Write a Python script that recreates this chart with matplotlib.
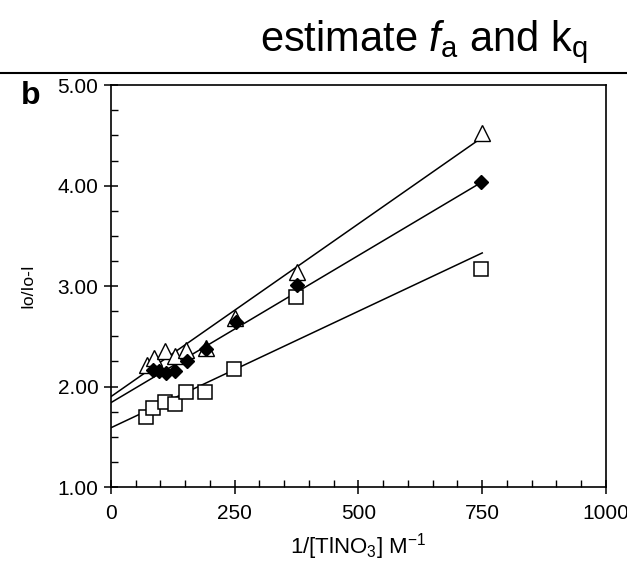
import matplotlib
matplotlib.use("Agg")
import matplotlib.pyplot as plt
from matplotlib.lines import Line2D
from matplotlib.ticker import MultipleLocator, FormatStrFormatter
import numpy as np

plt.rcParams['font.family'] = ['Liberation Sans', 'DejaVu Sans']
plt.rcParams['mathtext.fontset'] = 'custom'
plt.rcParams['mathtext.rm'] = 'Liberation Sans'
plt.rcParams['mathtext.it'] = 'Liberation Sans:italic'

# ------------------- DATA -------------------
x_tri = [72, 87, 110, 129, 151, 191, 250, 375, 749]
y_tri = [2.21, 2.28, 2.35, 2.30, 2.36, 2.38, 2.68, 3.14, 4.52]

x_dia = [85, 98, 112, 129, 153, 192, 252, 376, 747]
y_dia = [2.16, 2.15, 2.13, 2.15, 2.25, 2.37, 2.64, 3.01, 4.04]

x_sq = [71, 85, 110, 129, 151, 190, 249, 373, 747]
y_sq = [1.70, 1.79, 1.85, 1.83, 1.95, 1.95, 2.17, 2.89, 3.17]

# fitted lines: intercept, slope
fit_tri = [1.90, 0.00344]
fit_dia = [1.84, 0.00293]
fit_sq = [1.59, 0.00232]
fit_range = [0, 750]

# ------------------- FIGURE -------------------
fig = plt.figure(figsize=(6.27, 5.64), dpi=100)
ax = fig.add_axes([0.177, 0.1365, 0.7895, 0.7125])

xl = np.array(fit_range)
for b, m in (fit_tri, fit_dia, fit_sq):
    ax.plot(xl, b + m * xl, color='black', linewidth=1.1, zorder=2)

ax.plot(x_sq, y_sq, linestyle='none', marker='s', markersize=9.5,
        markerfacecolor='white', markeredgecolor='black', markeredgewidth=1.1, zorder=3)
ax.plot(x_tri, y_tri, linestyle='none', marker='^', markersize=11,
        markerfacecolor='white', markeredgecolor='black', markeredgewidth=1.0, zorder=3)
ax.plot(x_dia, y_dia, linestyle='none', marker='D', markersize=7.5,
        markerfacecolor='black', markeredgecolor='black', zorder=4)

ax.set_xlim(0, 1000)
ax.set_ylim(1.0, 5.0)
ax.xaxis.set_major_locator(MultipleLocator(250))
ax.xaxis.set_minor_locator(MultipleLocator(50))
ax.yaxis.set_major_locator(MultipleLocator(1.0))
ax.yaxis.set_minor_locator(MultipleLocator(0.25))
ax.yaxis.set_major_formatter(FormatStrFormatter('%.2f'))

ax.tick_params(which='major', direction='inout', length=10, width=1.1,
               labelsize=15, top=False, right=False)
ax.tick_params(axis='x', which='major', pad=7)
ax.tick_params(axis='y', which='major', pad=4)
ax.tick_params(which='minor', direction='in', length=5, width=1.0,
               top=False, right=False)
for s in ax.spines.values():
    s.set_linewidth(1.2)

ax.set_xlabel('1/[TlNO$_3$] M$^{-1}$', fontsize=16, labelpad=6)
ax.set_ylabel('Io/Io-I', fontsize=12.5, labelpad=16)

fig.text(0.033, 0.815, 'b', fontsize=23, fontweight='bold')

# title with rule underneath
fig.text(0.676, 0.91, 'estimate $f_\\mathrm{a}$ and k$_\\mathrm{q}$',
         fontsize=30, ha='center', va='baseline')
fig.add_artist(Line2D([0, 1], [0.8706, 0.8706], transform=fig.transFigure,
                      color='black', linewidth=1.5))

plt.savefig('out.png', dpi=100)
